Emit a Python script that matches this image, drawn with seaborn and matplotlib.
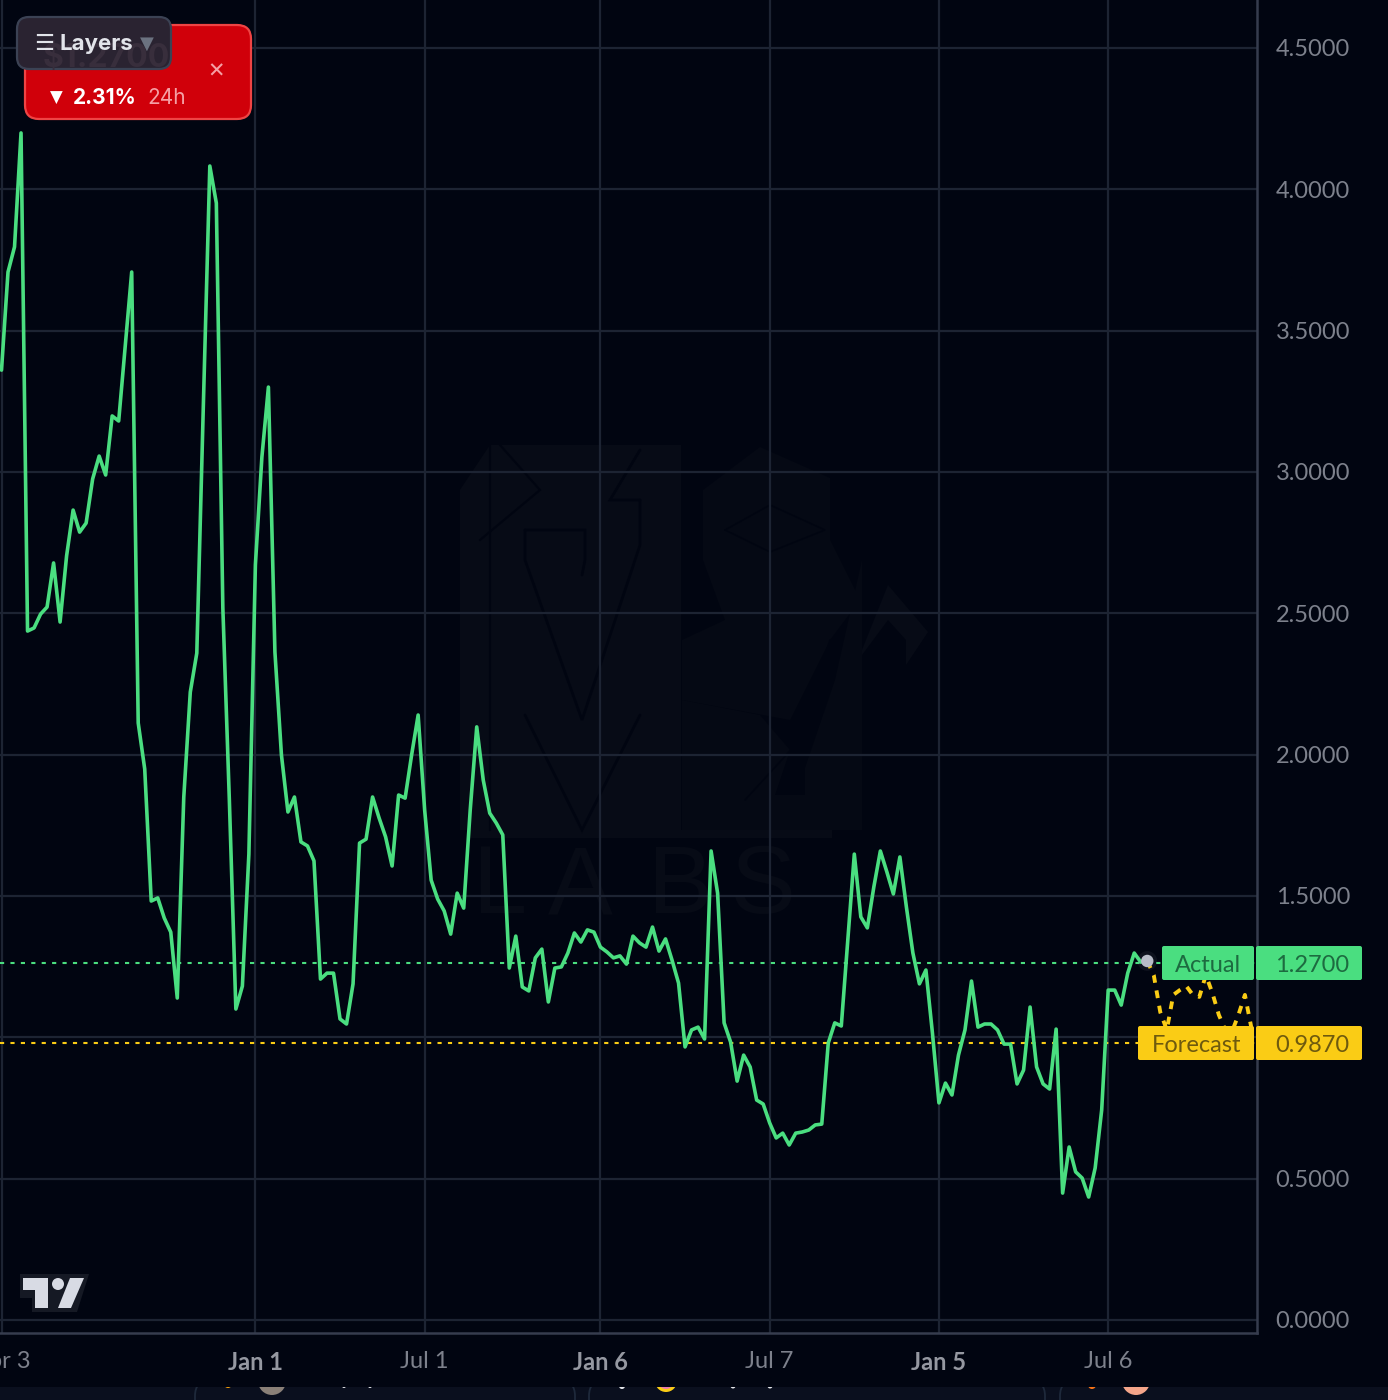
import numpy as np
import pandas as pd
import matplotlib
matplotlib.use('Agg')
import matplotlib.pyplot as plt
from matplotlib.patches import Polygon, Rectangle, Circle, FancyBboxPatch
import seaborn as sns

# weekly price
actual_values = [
    3.360, 3.707, 3.796, 4.199, 2.437, 2.448, 2.497, 2.522, 2.678, 2.469,
    2.703, 2.865, 2.787, 2.819, 2.975, 3.056, 2.989, 3.198, 3.180, 3.442,
    3.707, 2.112, 1.949, 1.482, 1.493, 1.422, 1.372, 1.139, 1.850, 2.221,
    2.359, 3.230, 4.082, 3.951, 2.519, 1.839, 1.100, 1.181, 1.648, 2.671,
    3.053, 3.300, 2.363, 1.999, 1.797, 1.850, 1.691, 1.677, 1.624, 1.206,
    1.227, 1.227, 1.065, 1.047, 1.189, 1.687, 1.701, 1.850, 1.776, 1.709,
    1.606, 1.857, 1.846, 1.999, 2.140, 1.804, 1.556, 1.489, 1.447, 1.365,
    1.510, 1.457, 1.804, 2.098, 1.910, 1.793, 1.758, 1.716, 1.245, 1.358,
    1.178, 1.164, 1.281, 1.312, 1.125, 1.245, 1.249, 1.298, 1.369, 1.337,
    1.380, 1.372, 1.319, 1.302, 1.281, 1.288, 1.259, 1.358, 1.334, 1.319,
    1.390, 1.305, 1.348, 1.273, 1.192, 0.966, 1.026, 1.036, 0.994, 1.659,
    1.510, 1.051, 0.983, 0.845, 0.937, 0.895, 0.778, 0.764, 0.697, 0.644,
    0.661, 0.619, 0.661, 0.665, 0.672, 0.690, 0.693, 0.980, 1.051, 1.040,
    1.344, 1.648, 1.426, 1.387, 1.532, 1.659, 1.585, 1.507, 1.638, 1.461,
    1.298, 1.189, 1.238, 1.015, 0.768, 0.838, 0.796, 0.937, 1.026, 1.199,
    1.036, 1.047, 1.047, 1.026, 0.976, 0.976, 0.835, 0.884, 1.107, 0.895,
    0.835, 0.817, 1.029, 0.449, 0.612, 0.524, 0.502, 0.435, 0.538, 0.743,
    1.167, 1.167, 1.114, 1.227, 1.298, 1.266, 1.270,
]
forecast_values = [
    1.270, 1.220, 1.089, 1.026, 1.150, 1.167, 1.181, 1.150, 1.143, 1.220,
    1.157, 1.079, 1.026, 1.019, 1.079, 1.150, 1.033,
]
# where the two dotted price lines sit in the picture
actual_level = 1.263
forecast_level = 0.980

# axis labels
y_ticks = [0.0, 0.5, 1.0, 1.5, 2.0, 2.5, 3.0, 3.5, 4.0, 4.5]
x_ticks = [0, 39, 65, 92, 118, 144, 170]
x_labels = ["Apr 3", "Jan 1", "Jul 1", "Jan 6", "Jul 7", "Jan 5", "Jul 6"]

BG = "#010511"
GRID = "#1d2433"
GREEN = "#4ade80"
YELLOW = "#facc15"
TICK = "#7d818c"

sns.set_theme(style="dark")
plt.rcParams['font.family'] = ['Lato', 'DejaVu Sans']

df_actual = pd.DataFrame({"week": np.arange(len(actual_values)), "price": actual_values})
df_forecast = pd.DataFrame({
    "week": np.arange(len(forecast_values)) + len(actual_values) - 1,
    "price": forecast_values,
})

W, H = 1388, 1400
fig = plt.figure(figsize=(W / 100, H / 100), dpi=100, facecolor=BG)

# pixel space layers, one behind the chart and one above it
back = fig.add_axes([0, 0, 1, 1], zorder=0)
back.set_xlim(0, W)
back.set_ylim(H, 0)
back.axis("off")

ax = fig.add_axes([0, (H - 1333) / H, 1257 / W, 1333 / H], zorder=1)
ax.patch.set_visible(False)

top = fig.add_axes([0, 0, 1, 1], zorder=2)
top.set_xlim(0, W)
top.set_ylim(H, 0)
top.axis("off")

# ---- watermark
WM = "#070b16"
WM2 = "#050914"
back.add_patch(Polygon([(460, 490), (490, 445), (681, 445), (681, 830), (460, 830)],
                       closed=True, fc=WM, ec="none"))
for pts in [
    [(703, 490), (760, 447), (830, 478), (830, 540), (860, 600), (830, 640), (790, 720),
     (682, 700), (682, 640), (725, 620), (703, 560)],
    [(682, 700), (760, 715), (790, 750), (775, 795), (805, 795), (805, 768), (835, 680),
     (862, 560), (862, 830), (682, 830)],
]:
    back.add_patch(Polygon(pts, closed=True, fc=WM2, ec="none"))
back.add_patch(Polygon([(862, 650), (888, 585), (928, 632), (906, 665), (906, 640), (888, 620),
                        (862, 655)], closed=True, fc=WM, ec="none"))
back.add_patch(Rectangle((470, 830), 362, 8, fc=WM, ec="none"))
for xs, ys, lw in [
    ([490, 490], [445, 830], 1.6),
    ([525, 525, 582, 640, 640], [530, 560, 720, 545, 500], 2.0),
    ([525, 582, 640], [715, 830, 715], 2.0),
    ([525, 585, 585, 582], [530, 530, 560, 575], 2.0),
    ([500, 540, 480], [445, 490, 540], 1.6),
    ([640, 610, 640], [500, 500, 450], 2.0),
    ([725, 770, 825, 770, 725], [530, 505, 530, 552, 530], 1.2),
    ([745, 800, 830], [800, 740, 640], 1.2),
]:
    back.plot(xs, ys, color=BG, lw=lw, solid_joinstyle="miter")
for letter, lx in [("L", 500), ("A", 580), ("B", 680), ("S", 763)]:
    back.text(lx, 888, letter, color=WM, fontsize=70, ha="center", va="center",
              family="Liberation Sans")

# ---- chart
ax.set_xlim((0 - 1.5) / 6.51, (1257 - 1.5) / 6.51)
ax.set_ylim(-13 / 282.7, 1320 / 282.7)

ax.hlines(actual_level, ax.get_xlim()[0], ax.get_xlim()[1], color=GREEN, lw=1.5,
          linestyles=(0, (2, 3)), zorder=2)
ax.hlines(forecast_level, ax.get_xlim()[0], ax.get_xlim()[1], color=YELLOW, lw=1.5,
          linestyles=(0, (2, 3)), zorder=2)

sns.lineplot(data=df_forecast, x="week", y="price", ax=ax, color=YELLOW, linewidth=2.8,
             linestyle=(0, (2, 2)), errorbar=None, zorder=3)
sns.lineplot(data=df_actual, x="week", y="price", ax=ax, color=GREEN, linewidth=2.6,
             errorbar=None, zorder=4)
last = df_actual.tail(1)
sns.scatterplot(data=last, x="week", y="price", ax=ax, s=200, color="#b8bcc8", alpha=0.07,
                edgecolor="none", zorder=5, legend=False)
sns.scatterplot(data=last, x="week", y="price", ax=ax, s=80, color="#b8bcc8",
                edgecolor="none", zorder=6, legend=False)

ax.set_xticks(x_ticks)
ax.set_xticklabels(x_labels)
ax.set_yticks(y_ticks)
ax.set_yticklabels([f"{v:.4f}" for v in y_ticks])
ax.yaxis.tick_right()
ax.set_xlabel("")
ax.set_ylabel("")
ax.grid(True, color=GRID, lw=1.6, zorder=1)
ax.set_axisbelow(True)
ax.tick_params(axis="both", length=0, labelcolor=TICK, labelsize=17)
ax.tick_params(axis="x", pad=13)
ax.tick_params(axis="y", pad=13.5)
for lab in ax.get_xticklabels():
    if lab.get_text().startswith("Jan"):
        lab.set_fontweight("bold")
        lab.set_color("#9598a1")
for name, sp in ax.spines.items():
    sp.set_visible(name in ("right", "bottom"))
    sp.set_color("#363c4e")
    sp.set_linewidth(1.8)

# ---- price tags
for x0, x1, y0, y1, col in [
    (1162, 1254, 946, 980, GREEN),
    (1256, 1362, 946, 980, GREEN),
    (1138, 1254, 1026, 1060, YELLOW),
    (1256, 1362, 1026, 1060, YELLOW),
]:
    top.add_patch(FancyBboxPatch((x0 + 2, y0 + 2), x1 - x0 - 4, y1 - y0 - 4,
                                 boxstyle="round,pad=2,rounding_size=2", fc=col, ec="none"))
top.text(1241, 965, "Actual", color="#1d6b40", fontsize=17, ha="right", va="center")
top.text(1349, 965, "1.2700", color="#1d6b40", fontsize=17, ha="right", va="center")
top.text(1241, 1045, "Forecast", color="#6e5a0e", fontsize=17, ha="right", va="center")
top.text(1349, 1045, "0.9870", color="#6e5a0e", fontsize=17, ha="right", va="center")

# ---- red price badge with the layers button over it
top.add_patch(FancyBboxPatch((32, 32), 212, 80, boxstyle="round,pad=7,rounding_size=14",
                             fc="#d0000a", ec="#ef4444", lw=1.6))
top.text(216, 72, "✕", color="#f5a0a5", fontsize=15, ha="center", va="center",
         family="DejaVu Sans")
top.text(56, 98, "▼", color="white", fontsize=12, ha="center", va="center",
         family="DejaVu Sans")
top.text(73, 98, "2.31%", color="white", fontsize=15, ha="left", va="center",
         fontweight="bold", family="Inter")
top.text(147, 98, "24h", color="#f5a0a5", fontsize=15, ha="left", va="center",
         family="Inter")
top.add_patch(FancyBboxPatch((27, 27), 134, 32, boxstyle="round,pad=10,rounding_size=12",
                             fc="#2a2331", ec="#3b4254", lw=1.6))
top.text(106, 58, "$1.2700", color="#382e3c", fontsize=23, ha="center", va="center",
         fontweight="bold", family="Inter")
top.text(44, 44, "☰", color="#e2e4ea", fontsize=16, ha="center", va="center",
         family="DejaVu Sans")
top.text(60, 44, "Layers", color="#e2e4ea", fontsize=16, ha="left", va="center",
         fontweight="bold", family="Inter")
top.text(147, 44, "▼", color="#6b7280", fontsize=13, ha="center", va="center",
         family="DejaVu Sans")

# ---- tradingview logo
top.add_patch(Polygon([(20, 1274), (89, 1274), (77, 1312), (32, 1312), (32, 1298), (20, 1298)],
                      closed=True, fc="#151924", ec="none"))
top.add_patch(Polygon([(23, 1278), (48, 1278), (48, 1308), (35, 1308), (35, 1290), (23, 1290)],
                      closed=True, fc="#d8dbe4", ec="none"))
top.add_patch(Circle((58, 1284), 6, fc="#d8dbe4", ec="none"))
top.add_patch(Polygon([(70, 1278), (84, 1278), (71, 1308), (58, 1308)],
                      closed=True, fc="#d8dbe4", ec="none"))

# ---- page strip below the chart, only its top edge is in view
strip = Rectangle((0, 1387), W, 13, fc="#0a0f1e", ec="none")
top.add_patch(strip)
strip_bits = []
for x0, x1 in [(195, 575), (589, 1045), (1060, 1430)]:
    strip_bits.append(top.add_patch(FancyBboxPatch((x0 + 16, 1396), x1 - x0 - 32, 60,
                                                   boxstyle="round,pad=16,rounding_size=16",
                                                   fc="#0a0f1e", ec="#1e293b", lw=1.3)))
for x, y, r, col in [
    (228, 1384, 4, "#f59e0b"), (272, 1381, 14, "#8a8078"), (344, 1386, 2, "#e5e7eb"),
    (370, 1386, 2, "#e5e7eb"), (622, 1386, 3, "#e5e7eb"), (666, 1381, 11, "#facc15"),
    (666, 1381, 8, "#e879b0"), (733, 1386, 2.5, "#e5e7eb"), (770, 1386, 2.5, "#e5e7eb"),
    (1092, 1385, 4, "#f97316"), (1136, 1381, 14, "#f4a58a"),
]:
    strip_bits.append(top.add_patch(Circle((x, y), r, fc=col, ec="none")))
for bit in strip_bits:
    bit.set_clip_path(strip)

fig.savefig("out.png", dpi=100, facecolor=BG)
